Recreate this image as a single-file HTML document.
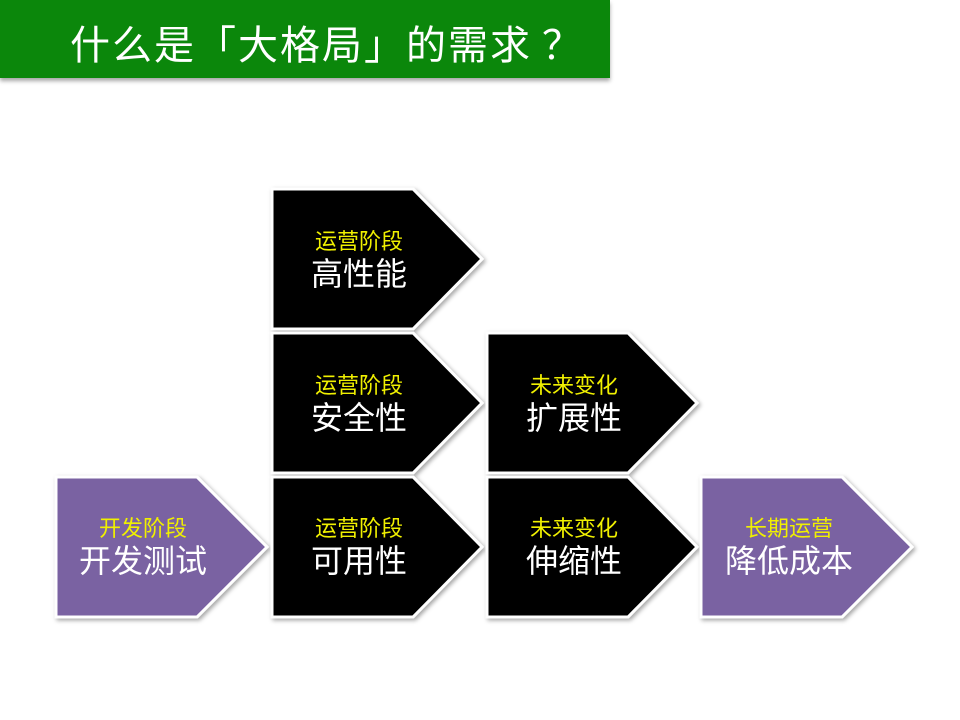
<!DOCTYPE html>
<html><head><meta charset="utf-8"><style>
body{margin:0;width:960px;height:720px;background:#fff;overflow:hidden;position:relative;font-family:"Liberation Sans","Noto Sans CJK SC",sans-serif}
.bar{position:absolute;left:0;top:0;width:610px;height:78px;background:#0b870b;box-shadow:0 3px 4px rgba(0,0,0,.35)}
.bar div{position:absolute;left:70px;top:18px;font-size:40px;line-height:48px;color:#fff;white-space:nowrap;font-family:"Noto Sans CJK SC",sans-serif;letter-spacing:2px}
</style></head><body>
<div class="bar"><div>什么是「大格局」的需求<span style="margin-left:10px">？</span></div></div>
<svg width="960" height="720" style="position:absolute;left:0;top:0" font-family="Liberation Sans, Noto Sans CJK SC, sans-serif">
<defs><filter id="s" x="-10%" y="-10%" width="130%" height="130%"><feDropShadow dx="2" dy="2" stdDeviation="2" flood-color="#000" flood-opacity="0.35"/></filter></defs>
<g stroke="#fff" stroke-width="3" filter="url(#s)">
<polygon points="56,477 197,477 267,547 197,617 56,617" fill="#7a62a2"/>
<polygon points="272,189 413,189 482,259 413,329 272,329" fill="#000"/>
<polygon points="272,333 413,333 482,403 413,473 272,473" fill="#000"/>
<polygon points="272,477 413,477 482,547 413,617 272,617" fill="#000"/>
<polygon points="487,333 628,333 697,403 628,473 487,473" fill="#000"/>
<polygon points="487,477 628,477 697,547 628,617 487,617" fill="#000"/>
<polygon points="701,477 842,477 912,547 842,617 701,617" fill="#7a62a2"/>
</g>
<g text-anchor="middle">
<g fill="#f0f000" font-size="22">
<text x="143" y="536">开发阶段</text>
<text x="359" y="249">运营阶段</text>
<text x="359" y="393">运营阶段</text>
<text x="359" y="536">运营阶段</text>
<text x="574" y="393">未来变化</text>
<text x="574" y="536">未来变化</text>
<text x="789" y="536">长期运营</text>
</g>
<g fill="#fff" font-size="32">
<text x="143" y="572">开发测试</text>
<text x="359" y="285">高性能</text>
<text x="359" y="429">安全性</text>
<text x="359" y="572">可用性</text>
<text x="574" y="429">扩展性</text>
<text x="574" y="572">伸缩性</text>
<text x="789" y="572">降低成本</text>
</g>
</g>
</svg>
</body></html>
